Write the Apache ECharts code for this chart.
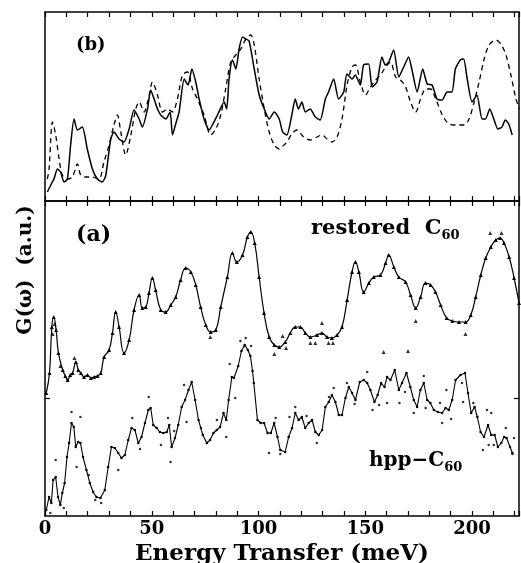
<!DOCTYPE html>
<html><head><meta charset="utf-8">
<script src="https://cdn.jsdelivr.net/npm/echarts@6/dist/echarts.min.js"></script>
<style>html,body{margin:0;padding:0;background:#fff}#c{width:521px;height:563px}</style>
</head><body><div id="c"></div>
<script>
// Panel (b): energy (meV) vs G (a.u.)
const topSolid = [[1.1,9],[2.7,16],[4.2,22],[5.8,32],[7.3,29],[8.9,19],[10.5,22],[12.0,56],[13.6,82],[15.2,71],[17.5,74],[19.8,52],[22.2,32],[24.5,22],[26.8,19],[28.4,25],[30.8,62],[32.3,69],[34.7,62],[37.0,59],[39.4,72],[41.7,91],[44.1,82],[45.6,74],[48.0,92],[49.5,111],[51.1,102],[52.7,92],[54.2,86],[56.6,82],[58.6,89],[59.7,66],[61.2,77],[62.8,89],[65.2,122],[67.0,116],[68.8,132],[70.6,119],[72.2,102],[74.5,82],[76.9,71],[78.4,76],[80.8,86],[83.9,99],[85.1,92],[86.2,122],[87.8,141],[89.4,132],[90.9,152],[92.5,164],[94.1,162],[95.6,160],[98.0,132],[100.3,106],[102.7,92],[105,82],[107.4,89],[109.7,82],[111.3,69],[113.3,66],[115.6,86],[117.2,102],[118.7,92],[120.3,99],[121.9,89],[124.2,92],[126.6,84],[128.9,81],[131.3,102],[132.8,109],[135.2,122],[137.5,102],[139.9,109],[141.4,127],[143.8,122],[145.3,126],[147.7,116],[149.2,136],[151.6,137],[153.2,114],[155.5,119],[157.8,144],[159.4,136],[161.0,139],[163.3,151],[165.7,124],[168.0,134],[170.3,144],[171.9,131],[174.3,109],[176.9,132],[179,117],[181.3,116],[183.6,102],[186,101],[188.3,109],[190.6,109],[192.2,132],[194.5,141],[196.1,142],[197.6,124],[200,99],[202.3,106],[204.7,82],[206.3,82],[208.3,92],[210.2,82],[212.1,72],[214,74],[215.6,81],[217.2,77],[218.8,66]];
const topDashed = [[1.1,22],[1.9,32],[3.5,79],[5.0,66],[6.6,42],[8.1,26],[10.5,22],[12.8,24],[15.2,37],[16.7,26],[19.1,24],[22.2,24],[25.3,22],[27.6,39],[30,56],[32.3,76],[33.9,86],[35.5,69],[37.8,46],[40.2,66],[42.5,92],[44.1,99],[46.4,89],[48.8,106],[50.3,119],[52.7,106],[55,89],[57.3,92],[59.7,89],[62,102],[64.4,126],[66.7,129],[69.1,112],[71.4,102],[74.5,86],[77.6,66],[80,72],[82.3,86],[84.6,112],[87,139],[89.4,146],[91.7,152],[94.1,162],[96.4,166],[98,156],[100.3,122],[102.7,92],[105,69],[107.4,56],[109.7,52],[110.9,54],[113.3,59],[115.6,67],[118,71],[121.1,64],[124.2,61],[127.4,64],[129.7,66],[132.1,62],[134.4,59],[136.8,64],[139.1,82],[141.5,116],[143.8,134],[145.4,136],[147.7,119],[150.1,106],[152.4,114],[154.8,121],[157.1,126],[159.5,134],[161.8,139],[164.2,124],[166.5,121],[168.9,114],[171.2,99],[173.6,89],[175.9,102],[178.3,112],[180.6,112],[183,102],[186.1,86],[189.2,77],[192.4,76],[196.3,76],[198.6,82],[201,99],[203.3,119],[205.7,142],[208,156],[211.2,161],[213.5,157],[215.9,146],[218.2,126],[220.6,102],[222.2,92]];
// Panel (a): restored C60 (upper) and hpp-C60 (lower)
const restored = [[0.6,123],[2.1,143],[3.2,189],[4.1,199],[5.2,186],[6.3,163],[8.3,146],[9.5,140],[10.6,136],[11.8,141],[12.9,143],[14.5,154],[15.6,146],[16.8,143],[18.3,139],[19.9,141],[21.5,138],[23,139],[24.6,140],[26.1,143],[27.7,159],[30,166],[31.6,183],[33.1,204],[34.7,189],[37,163],[39.4,176],[41.7,206],[44.1,221],[45.6,208],[47.2,209],[48.7,223],[50.3,238],[51.8,226],[54.2,206],[56.5,204],[58.9,211],[61.2,219],[63.5,236],[65.9,248],[68.3,244],[70.6,231],[72.9,209],[75.3,191],[77.6,184],[80,186],[82.3,209],[85.4,239],[87.8,263],[89.8,254],[92.5,261],[94.8,279],[96.4,284],[98.2,273],[100.3,239],[102.6,203],[105,179],[107.4,171],[109.7,169],[112.5,174],[114.9,183],[117.2,189],[119.6,189],[121.9,183],[124.3,179],[127.4,181],[129.7,183],[132.1,179],[134.4,178],[136.8,181],[139.1,189],[141.5,216],[143.8,244],[145.4,254],[147,244],[149.3,224],[151.7,233],[154,239],[157.1,241],[159.5,253],[161,261],[163.4,249],[165.7,239],[168.9,234],[171.2,221],[173.6,208],[175.9,219],[178.2,233],[180.6,231],[182.9,224],[185.3,211],[188.1,198],[190.8,195],[193.9,194],[197,194],[199.4,201],[201.7,219],[204.1,241],[206.4,258],[208.8,269],[211.1,276],[213.1,278],[215,273],[217.4,259],[219.7,238],[222,213]];
const restoredOut = [[77.4,179],[107.4,162],[111.3,180],[112.9,168],[124.3,173],[126.6,173],[129.7,193],[132.8,173],[134.9,173],[158.6,164],[170,165],[173.6,195],[196.9,182],[208.5,283],[213.8,283],[4.5,192],[3.6,182],[7.2,150],[13.8,158]];
const hpp = [[0.6,6],[1.9,19],[3.0,13],[3.8,36],[5.0,39],[6.1,19],[7.2,11],[8.1,23],[9.2,33],[10.3,59],[11.3,73],[12.4,93],[13.5,89],[14.4,69],[15.5,74],[16.6,73],[17.8,59],[19.4,46],[21,33],[22.5,24],[24.1,19],[26,18],[28,26],[29.6,49],[31.1,69],[32.7,68],[34.3,63],[35.8,58],[37.4,61],[39,76],[40.5,88],[42.1,86],[43.7,73],[45.2,79],[46.8,93],[48.4,106],[49.5,108],[50.7,91],[52.3,88],[53.8,84],[55.4,83],[57,84],[58.2,91],[59.3,69],[60.9,78],[62.4,91],[64,109],[65.6,116],[67.2,126],[68.7,134],[70.3,116],[71.9,96],[73.9,81],[75.8,73],[77.3,76],[78.9,83],[80.5,86],[82,89],[83.6,103],[84.9,96],[86,116],[87.5,139],[88.5,138],[90.5,150],[92,165],[93.5,171],[95,166],[96.2,160],[97.2,145],[97.8,133],[99.5,96],[101,93],[102.6,93],[104.2,83],[105.8,83],[107.3,93],[108.9,79],[110.2,66],[112.5,64],[114.1,79],[115.7,88],[117.2,103],[118.8,96],[120.3,99],[121.9,88],[123.5,93],[125.1,96],[126.6,84],[128.2,81],[129.8,86],[131.3,109],[132.9,114],[134.4,121],[136,114],[137.6,101],[139.1,101],[140.7,118],[142.3,129],[143.8,123],[145.4,116],[147.4,134],[149.3,136],[150.9,133],[152.4,126],[154.3,114],[155.8,121],[157.4,133],[159,129],[160.2,139],[161.8,136],[163.8,146],[165.7,126],[167.2,133],[169.3,143],[171.1,129],[172.7,116],[174.3,109],[175.8,126],[177.4,133],[179,116],[180.5,113],[182.1,106],[184,104],[186,103],[187.6,108],[189.1,106],[190.7,116],[192.3,136],[194.6,141],[196.7,143],[198.1,123],[199.6,103],[201.2,109],[202.5,99],[204,84],[205.6,79],[207.5,91],[209,81],[210.6,81],[212.1,69],[213.7,73],[215,79],[216.2,78],[217.8,69],[218.9,63]];
const hppDots = [[5.0,56],[12.4,104],[16.6,99],[14.8,49],[26.3,13],[34.3,46],[40.9,98],[48.6,119],[54.3,71],[58.8,54],[57.6,98],[65.1,131],[66.3,94],[89.1,118],[84.9,79],[80.5,96],[104.9,63],[108,98],[110.2,62],[91.5,175],[94,178],[96.5,170],[86.5,152],[114.5,99],[117.2,109],[127.3,73],[133,119],[135.2,128],[141.4,133],[150.9,144],[153.4,106],[160.2,113],[166,113],[168.6,124],[172.7,103],[177.4,140],[178.3,108],[185,113],[186,93],[188,126],[190.2,97],[195.3,133],[195.8,114],[200.6,113],[205.1,66],[207,106],[209,103],[207.8,71],[210.2,71],[215.8,88],[219.7,78],[218.9,62],[2.5,3],[8.8,8],[20.5,41],[23.5,16],[44.5,67],[60.5,85],[73,88],[122.5,100],[145,112],[156.5,111]];
const xLabels = [0, 50, 100, 150, 200];

const F = 'DejaVu Serif';
function xa(grid, pos, labels, name) {
  return {
    type: 'value', gridIndex: grid, position: pos, min: 0, max: 222, interval: 10,
    axisLine: { show: true, onZero: false, lineStyle: { color: '#000', width: 1.5 } },
    axisTick: { show: true, inside: true, length: 5, lineStyle: { color: '#000', width: 1.2 } },
    axisLabel: labels ? { show: true, color: '#000', fontFamily: F, fontWeight: 'bold', fontSize: 18, margin: 4,
      formatter: v => xLabels.indexOf(v) >= 0 ? String(v) : '' } : { show: false },
    splitLine: { show: false },
    name: name || '', nameLocation: 'middle', nameGap: 22,
    nameTextStyle: { color: '#000', fontFamily: F, fontWeight: 'bold', fontSize: 23 }
  };
}
function ya(grid, pos, max, tick) {
  return {
    type: 'value', gridIndex: grid, position: pos, min: 0, max: max,
    axisLine: { show: true, onZero: false, lineStyle: { color: '#000', width: 1.5 } },
    axisTick: tick ? { show: true, inside: true, length: 5, customValues: [118], lineStyle: { color: '#000', width: 1.2 } } : { show: false },
    axisLabel: { show: false }, splitLine: { show: false }
  };
}
const chart = echarts.init(document.getElementById('c'), null, { renderer: 'canvas' });
chart.setOption({
  backgroundColor: '#fff',
  animation: false,
  grid: [
    { left: 45, top: 12, width: 474, height: 189, containLabel: false, outerBoundsMode: 'none' },
    { left: 45, top: 201, width: 474, height: 315, containLabel: false, outerBoundsMode: 'none' }
  ],
  xAxis: [xa(0, 'bottom'), xa(0, 'top'), xa(1, 'bottom', true, 'Energy Transfer (meV)'), xa(1, 'top')],
  yAxis: [ya(0, 'left', 189), ya(0, 'right', 189), ya(1, 'left', 315, true), ya(1, 'right', 315, true)],
  series: [
    { type: 'line', xAxisIndex: 0, yAxisIndex: 0, data: topSolid, showSymbol: false, smooth: 0.2,
      lineStyle: { color: '#000', width: 1.5 } },
    { type: 'line', xAxisIndex: 0, yAxisIndex: 0, data: topDashed, showSymbol: false, smooth: 0.3,
      lineStyle: { color: '#000', width: 1.3, type: [5, 4] } },
    { type: 'line', xAxisIndex: 2, yAxisIndex: 2, data: restored, smooth: 0.45, symbol: 'triangle', symbolSize: 4,
      itemStyle: { color: '#000' }, lineStyle: { color: '#000', width: 1.2 } },
    { type: 'scatter', xAxisIndex: 2, yAxisIndex: 2, data: restoredOut, symbol: 'triangle', symbolSize: 4,
      itemStyle: { color: '#000' } },
    { type: 'line', xAxisIndex: 2, yAxisIndex: 2, data: hpp, smooth: false, symbol: 'circle', symbolSize: 2.5,
      itemStyle: { color: '#000' }, lineStyle: { color: '#000', width: 1.1 } },
    { type: 'scatter', xAxisIndex: 2, yAxisIndex: 2, data: hppDots, symbol: 'circle', symbolSize: 2.5,
      itemStyle: { color: '#000' } }
  ],
  graphic: [
    { type: 'text', left: 76, top: 36, style: { text: '(b)', font: 'bold 18px "DejaVu Serif"', fill: '#000' } },
    { type: 'text', left: 76, top: 224, style: { text: '(a)', font: 'bold 22px "DejaVu Serif"', fill: '#000' } },
    { type: 'text', left: 311, top: 218, style: { text: '{a|restored  C}{s|60}', fill: '#000',
      rich: { a: { fontFamily: F, fontWeight: 'bold', fontSize: 21, verticalAlign: 'bottom' },
              s: { fontFamily: F, fontWeight: 'bold', fontSize: 13, verticalAlign: 'bottom', padding: [0, 0, -3, 0] } } } },
    { type: 'text', left: 369, top: 451, style: { text: '{a|hpp\u2212C}{s|60}', fill: '#000',
      rich: { a: { fontFamily: F, fontWeight: 'bold', fontSize: 20, verticalAlign: 'bottom' },
              s: { fontFamily: F, fontWeight: 'bold', fontSize: 13, verticalAlign: 'bottom', padding: [0, 0, -3, 0] } } } },
    { type: 'text', x: 26, y: 270, rotation: Math.PI / 2,
      style: { text: 'G(\u03c9)  (a.u.)', font: 'bold 20px "DejaVu Serif"', fill: '#000', align: 'center', verticalAlign: 'middle' } }
  ]
});
</script></body></html>
